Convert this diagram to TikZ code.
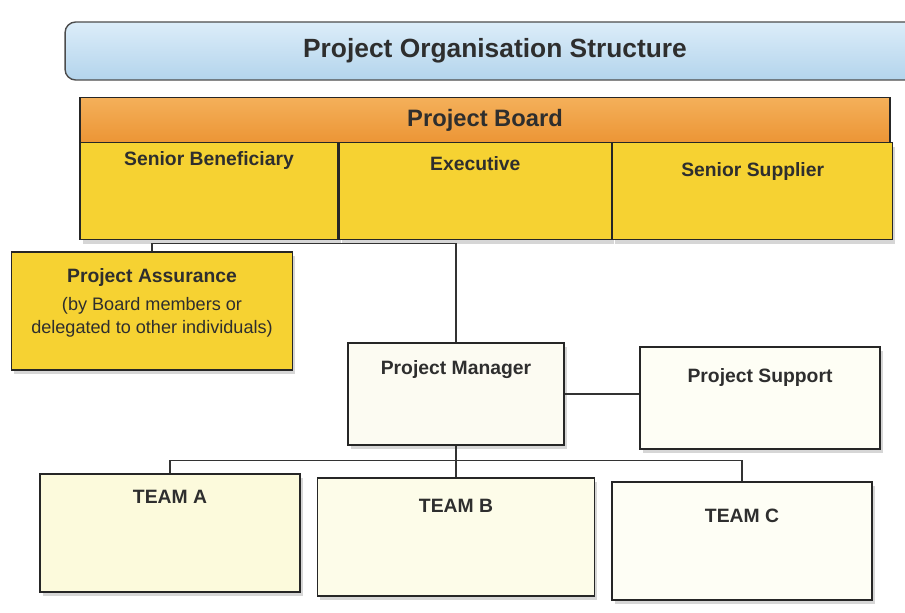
\documentclass[tikz,border=0pt]{standalone}
\usepackage{fontspec}
\setmainfont{Liberation Sans}
\usetikzlibrary{positioning,shadows}

\definecolor{ink}{HTML}{2E2E2E}
\definecolor{bartop}{HTML}{DCEDF9}
\definecolor{barbot}{HTML}{B3D4EC}
\definecolor{headtop}{HTML}{F4B05A}
\definecolor{headbot}{HTML}{EC9535}
\definecolor{boardyellow}{HTML}{F6D232}
\definecolor{creamA}{HTML}{FCFADC}
\definecolor{creamB}{HTML}{FDFCE9}
\definecolor{creamC}{HTML}{FEFEF5}
\definecolor{paper}{HTML}{FCFBF2}

% plain weight for the small print under a caption
\newcommand{\smallprint}{\mdseries\fontsize{10.3}{12.5}\selectfont}

\tikzset{
	box/.style={draw=black!85, line width=0.8pt,
		drop shadow={shadow xshift=1.5pt, shadow yshift=-2.5pt, fill=black!35, opacity=0.45}},
	titlebar/.style={draw=black!70, line width=0.8pt, rounded corners=6pt,
		top color=bartop, bottom color=barbot, text=ink,
		font=\bfseries\fontsize{15}{18}\selectfont},
	boardhead/.style={draw=black!85, line width=0.8pt, top color=headtop, bottom color=headbot,
		text=ink, font=\bfseries\fontsize{13.5}{16}\selectfont},
	cell/.style={box, fill=boardyellow, minimum height=1.94cm},
	caption/.style={anchor=north, text=ink, font=\bfseries\fontsize{11}{13}\selectfont},
	link/.style={draw=black!80, line width=0.6pt}
}

\begin{document}
\begin{tikzpicture}[x=0.02cm, y=-0.02cm]
	\fill[white] (0,0) rectangle (905,612);
	\useasboundingbox (0,0) rectangle (905,612);

	% heading
	\node[titlebar, minimum width=17.2cm, minimum height=1.16cm] (title) at (495,51) {Project Organisation Structure};

	% board
	\node[boardhead, minimum width=16.2cm, minimum height=0.9cm] (board) at (485,120) {Project Board};
	\node[cell, minimum width=5.16cm, label={[caption, yshift=-2pt]north:Senior Beneficiary}] (senben) at (209,191) {};
	\node[cell, minimum width=5.44cm, label={[caption, yshift=-5pt]north:Executive}] (exec) [right=0pt of senben] {};
	\node[cell, minimum width=5.6cm, label={[caption, yshift=-8pt]north:Senior Supplier}] (sensup) [right=0pt of exec] {};

	\node[box, fill=boardyellow, minimum width=5.62cm, minimum height=2.36cm,
		label={[caption, yshift=-6pt, align=center]north:Project Assurance\\[3pt]{\smallprint(by Board members or}\\{\smallprint delegated to other individuals)}}]
		(assure) at (152,311) {};

	% management
	\node[box, fill=paper, minimum width=4.32cm, minimum height=2.04cm,
		label={[caption, yshift=-7pt]north:Project Manager}] (pm) at (456,394) {};
	\node[box, fill=creamC, minimum width=4.8cm, minimum height=2.04cm,
		label={[caption, yshift=-9pt]north:Project Support}] (ps) at (760,398) {};

	% teams
	\node[box, fill=creamA, minimum width=5.2cm, minimum height=2.36cm,
		label={[caption, yshift=-6pt]north:TEAM A}] (teamA) at (170,533) {};
	\node[box, fill=creamB, minimum width=5.54cm, minimum height=2.36cm,
		label={[caption, yshift=-9pt]north:TEAM B}] (teamB) at (456,537) {};
	\node[box, fill=creamC, minimum width=5.2cm, minimum height=2.36cm,
		label={[caption, yshift=-12pt]north:TEAM C}] (teamC) at (742,541) {};

	\draw[link] (assure.north) -- ++(0,-8) -| (pm.north);
	\draw[link] (pm.east) -- (pm.east -| ps.west);
	\draw[link] (pm.south) -- ++(0,15) coordinate (split);
	\draw[link] (teamA.north) |- (split) -| (teamC.north);
	\draw[link] (split) -- (teamB.north);
\end{tikzpicture}
\end{document}
